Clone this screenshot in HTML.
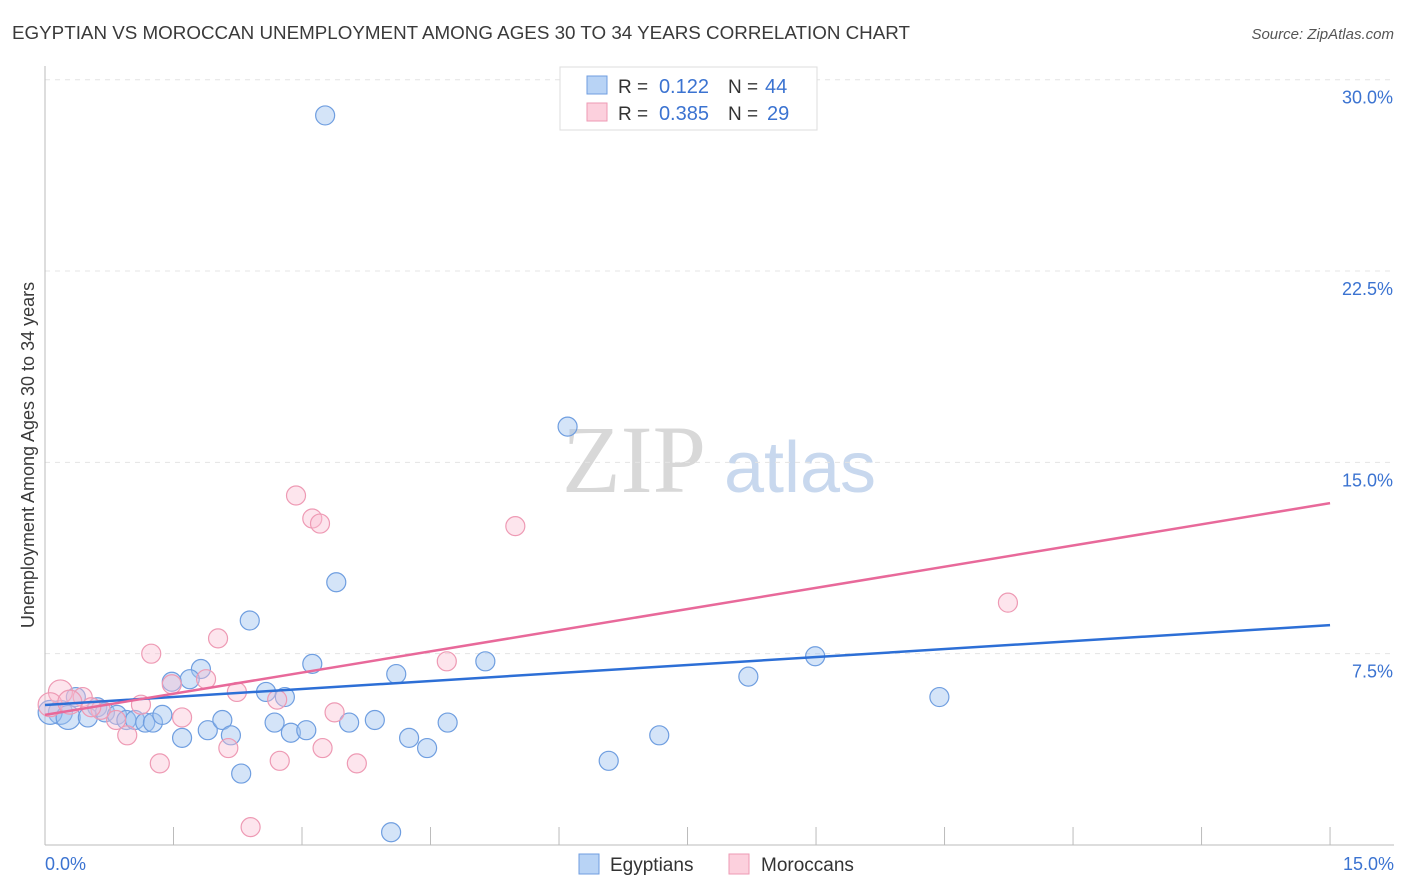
<!DOCTYPE html>
<html><head><meta charset="utf-8">
<style>
body{margin:0;background:#fff;font-family:"Liberation Sans",sans-serif;}
svg{display:block}
</style></head>
<body>
<svg id="chart" width="1406" height="892" xmlns="http://www.w3.org/2000/svg">
<text x="12" y="39" font-size="18" fill="#3a3a3a" textLength="898" lengthAdjust="spacingAndGlyphs">EGYPTIAN VS MOROCCAN UNEMPLOYMENT AMONG AGES 30 TO 34 YEARS CORRELATION CHART</text>
<text x="1394" y="39" font-size="15" fill="#555" font-style="italic" text-anchor="end">Source: ZipAtlas.com</text>
<text x="634" y="492" font-size="96" fill="#d8d8d8" font-family="Liberation Serif,serif" text-anchor="middle">ZIP</text>
<text x="800" y="492" font-size="72" fill="#c8d8ee" text-anchor="middle">atlas</text>
<text transform="translate(34,455) rotate(-90)" font-size="18" fill="#3a3a3a" text-anchor="middle">Unemployment Among Ages 30 to 34 years</text>
<g id="grid"></g><g id="axes"></g><g id="pts"></g><g id="lines"></g>
<g>
<rect x="560" y="67" width="257" height="63" fill="#fff" stroke="#ddd"/>
<rect x="587" y="76" width="20" height="18" fill="#b8d3f5" stroke="#6f9ee0"/>
<rect x="587" y="103" width="20" height="18" fill="#fcd0dd" stroke="#ee9ab4"/>
<text x="618" y="93" font-size="19" fill="#333">R =</text>
<text x="709" y="93" font-size="20" fill="#3b73d1" text-anchor="end">0.122</text>
<text x="728" y="93" font-size="19" fill="#333">N =</text>
<text x="765" y="93" font-size="20" fill="#3b73d1">44</text>
<text x="618" y="120" font-size="19" fill="#333">R =</text>
<text x="709" y="120" font-size="20" fill="#3b73d1" text-anchor="end">0.385</text>
<text x="728" y="120" font-size="19" fill="#333">N =</text>
<text x="767" y="120" font-size="20" fill="#3b73d1">29</text>
</g>
<g>
<rect x="579" y="854" width="20" height="20" fill="#b8d3f5" stroke="#6f9ee0"/>
<text x="610" y="871" font-size="19" fill="#333">Egyptians</text>
<rect x="729" y="854" width="20" height="20" fill="#fcd0dd" stroke="#ee9ab4"/>
<text x="761" y="871" font-size="19" fill="#333">Moroccans</text>
</g>
</svg>
<script>
const yTicks=[7.5,15,22.5,30];
const yTickLabels=["7.5%","15.0%","22.5%","30.0%"];
const xTickLabels=["0.0%","15.0%"];
const egyX=[3.27,6.10,3.40,2.39,8.99,5.14,3.12,4.10,8.21,1.82,1.48,1.69,10.44,2.58,2.80,0.36,0.61,0.18,0.06,0.27,0.50,0.70,0.84,0.95,1.05,1.17,1.26,1.37,1.60,1.90,2.07,2.17,2.68,2.87,3.05,3.55,3.85,4.70,4.25,4.46,7.17,6.58,2.29,4.04];
const egyY=[28.6,16.4,10.3,8.8,7.4,7.2,7.1,6.7,6.6,6.9,6.4,6.5,5.8,6.0,5.8,5.8,5.4,5.2,5.2,5.0,5.0,5.2,5.1,4.9,4.9,4.8,4.8,5.1,4.2,4.5,4.9,4.3,4.8,4.4,4.5,4.8,4.9,4.8,4.2,3.8,4.3,3.3,2.8,0.5];
const morX=[2.93,3.12,3.21,5.49,11.24,2.02,1.24,4.69,1.48,1.88,2.24,2.71,3.38,1.60,1.12,0.83,0.96,0.18,0.44,0.65,2.14,3.24,1.34,2.74,3.64,2.40,0.06,0.29,0.54];
const morY=[13.7,12.8,12.6,12.5,9.5,8.1,7.5,7.2,6.3,6.5,6.0,5.7,5.2,5.0,5.5,4.9,4.3,6.0,5.8,5.3,3.8,3.8,3.2,3.3,3.2,0.7,5.5,5.6,5.4];
const egyTrend=[5.49,8.62];
const morTrend=[5.10,13.40];
const X=v=>45+v*85.67, Y=v=>845-v*25.51;
const NS="http://www.w3.org/2000/svg";
function mk(p,t,a){const e=document.createElementNS(NS,t);for(const k in a)e.setAttribute(k,a[k]);document.getElementById(p).appendChild(e);return e;}
yTicks.forEach((t,i)=>{
 const g=mk('grid','line',{x1:45,x2:1394,y1:Y(t),y2:Y(t),stroke:'#e4e4e4','stroke-dasharray':'5,5'});
 
 
 const l=mk('grid','text',{x:1393,y:Y(t)+24,'font-size':18,fill:'#3b73d1','text-anchor':'end'});
 l.textContent=yTickLabels[i];
 
 
});
mk('axes','line',{x1:45,x2:45,y1:66,y2:845,stroke:'#bbb'});
mk('axes','line',{x1:45,x2:1394,y1:845,y2:845,stroke:'#bbb'});
for(let i=0;i<=10;i++){const t=mk('axes','line',{x1:X(i*1.5),x2:X(i*1.5),y1:827,y2:845,stroke:'#bbb'});
 
 }
[[0,'start',45],[15,'end',1394]].forEach((d,i)=>{const l=mk('axes','text',{x:d[2],y:870,'font-size':18,fill:'#3b73d1','text-anchor':d[1]});l.textContent=xTickLabels[i];
 
 });
egyX.forEach((v,i)=>{const c=mk('pts','circle',{cx:X(v),cy:Y(egyY[i]),r:v<0.3?12:9.5,fill:'rgba(160,196,240,0.45)',stroke:'#6f9ee0','stroke-width':1.2});
 
 });
morX.forEach((v,i)=>{const c=mk('pts','circle',{cx:X(v),cy:Y(morY[i]),r:v<0.3?12:9.5,fill:'rgba(250,190,210,0.4)',stroke:'#ee9ab4','stroke-width':1.2});
 
 });
const l1=mk('lines','line',{x1:X(0),y1:Y(egyTrend[0]),x2:X(15),y2:Y(egyTrend[1]),stroke:'#2d6fd6','stroke-width':2.5});


const l2=mk('lines','line',{x1:X(0),y1:Y(morTrend[0]),x2:X(15),y2:Y(morTrend[1]),stroke:'#e8699a','stroke-width':2.5});


</script>
</body></html>
